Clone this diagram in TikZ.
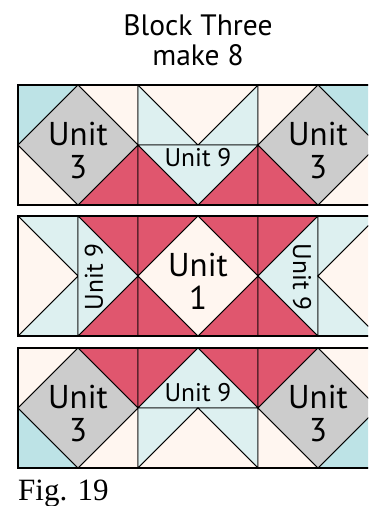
\documentclass[tikz,border=0pt]{standalone}
\usepackage{fontspec}
\setmainfont{Liberation Serif}
\newfontfamily\quiltSans{PT Sans}
\usepackage{xcolor}
\usepackage{tikz}
\usetikzlibrary{positioning}
\definecolor{patchTeal}{RGB}{189,227,230}
\definecolor{patchSky}{RGB}{221,240,240}
\definecolor{patchCream}{RGB}{255,246,240}
\definecolor{patchRed}{RGB}{224,86,110}
\definecolor{patchGray}{RGB}{204,204,204}
\tikzset{
  patch/.style={draw=black, line width=0.8pt, line join=miter},
  tealPatch/.style={patch, fill=patchTeal},
  skyPatch/.style={patch, fill=patchSky},
  creamPatch/.style={patch, fill=patchCream},
  redPatch/.style={patch, fill=patchRed},
  grayPatch/.style={patch, fill=patchGray},
  rowFrame/.style={draw=black, line width=1.2pt},
  titleText/.style={font=\quiltSans\fontsize{29.5}{30}\selectfont, anchor=base, inner sep=0pt},
  unitText/.style={font=\quiltSans\fontsize{33}{33}\selectfont, align=center, inner sep=0pt},
  smallUnit/.style={font=\quiltSans\fontsize{25.5}{26}\selectfont, inner sep=0pt},
  figText/.style={font=\fontsize{31}{34}\selectfont, anchor=base west, inner sep=0pt}
}
% square with a diamond in it: x, y, corner colours tl, tr, br, bl, diamond colour
\newcommand{\diamondSquare}[7]{%
  \begin{scope}[shift={(#1,#2)}]
    \path[#3Patch] (0,0) -- (60,0) -- (0,60) -- cycle;
    \path[#4Patch] (60,0) -- (120,0) -- (120,60) -- cycle;
    \path[#5Patch] (120,60) -- (120,120) -- (60,120) -- cycle;
    \path[#6Patch] (0,60) -- (60,120) -- (0,120) -- cycle;
    \path[#7Patch] (60,0) -- (120,60) -- (60,120) -- (0,60) -- cycle;
  \end{scope}}
% flying goose pair: x, y, outer colour, goose colour, pointing down (1) or up (-1)
\newcommand{\gooseHalf}[5]{%
  \begin{scope}[shift={(#1,#2)}]
    \ifnum#5=1
      \path[#3Patch] (0,0) -- (60,60) -- (0,60) -- cycle;
      \path[#3Patch] (120,0) -- (120,60) -- (60,60) -- cycle;
      \path[#4Patch] (0,0) -- (120,0) -- (60,60) -- cycle;
    \else
      \path[#3Patch] (0,0) -- (60,0) -- (0,60) -- cycle;
      \path[#3Patch] (60,0) -- (120,0) -- (120,60) -- cycle;
      \path[#4Patch] (60,0) -- (120,60) -- (0,60) -- cycle;
    \fi
  \end{scope}}

\begin{document}
\begin{tikzpicture}[x=1pt, y=-1pt]
  \useasboundingbox (0,0) rectangle (368,506);
  \clip (0,0) rectangle (368,506);

  \node[titleText] (title) at (198,35) {Block Three};
  \node[titleText] (subtitle) at (198,65) {make 8};

  % top row
  \diamondSquare{18}{85}{teal}{cream}{red}{cream}{gray}
  \gooseHalf{138}{85}{sky}{cream}{1}
  \gooseHalf{138}{145}{red}{sky}{1}
  \diamondSquare{258}{85}{cream}{teal}{cream}{red}{gray}
  \draw[rowFrame] (18,85) rectangle (378,205);

  % middle row
  \path[skyPatch] (18,216) -- (78,216) -- (78,276) -- cycle;
  \path[skyPatch] (18,336) -- (78,336) -- (78,276) -- cycle;
  \path[creamPatch] (18,216) -- (78,276) -- (18,336) -- cycle;
  \path[redPatch] (78,216) -- (138,216) -- (138,276) -- cycle;
  \path[redPatch] (78,336) -- (138,336) -- (138,276) -- cycle;
  \path[skyPatch] (78,216) -- (138,276) -- (78,336) -- cycle;
  \diamondSquare{138}{216}{red}{red}{red}{red}{cream}
  \path[redPatch] (258,216) -- (318,216) -- (258,276) -- cycle;
  \path[redPatch] (258,336) -- (318,336) -- (258,276) -- cycle;
  \path[skyPatch] (318,216) -- (258,276) -- (318,336) -- cycle;
  \path[skyPatch] (318,216) -- (378,216) -- (318,276) -- cycle;
  \path[skyPatch] (318,336) -- (378,336) -- (318,276) -- cycle;
  \path[creamPatch] (378,216) -- (318,276) -- (378,336) -- cycle;
  \draw[rowFrame] (18,216) rectangle (378,336);

  % bottom row
  \diamondSquare{18}{348}{cream}{red}{cream}{teal}{gray}
  \gooseHalf{138}{348}{red}{sky}{-1}
  \gooseHalf{138}{408}{sky}{cream}{-1}
  \diamondSquare{258}{348}{red}{cream}{teal}{cream}{gray}
  \draw[rowFrame] (18,348) rectangle (378,468);

  % labels
  \node[unitText] (unitTopLeft) at (78,150.5) {Unit\\3};
  \node[unitText] (unitTopRight) at (318,150.5) {Unit\\3};
  \node[smallUnit, anchor=base] (nineTop) at (198,166) {Unit 9};
  \node[smallUnit, rotate=90] (nineLeft) at (94,277) {Unit 9};
  \node[unitText] (unitOne) at (198,281.5) {Unit\\1};
  \node[smallUnit, rotate=-90] (nineRight) at (302,277) {Unit 9};
  \node[unitText] (unitBottomLeft) at (78,413.5) {Unit\\3};
  \node[smallUnit, anchor=base] (nineBottom) at (198,401) {Unit 9};
  \node[unitText] (unitBottomRight) at (318,413.5) {Unit\\3};

  \node[figText] (caption) at (18,500) {Fig. 19};
\end{tikzpicture}
\end{document}
